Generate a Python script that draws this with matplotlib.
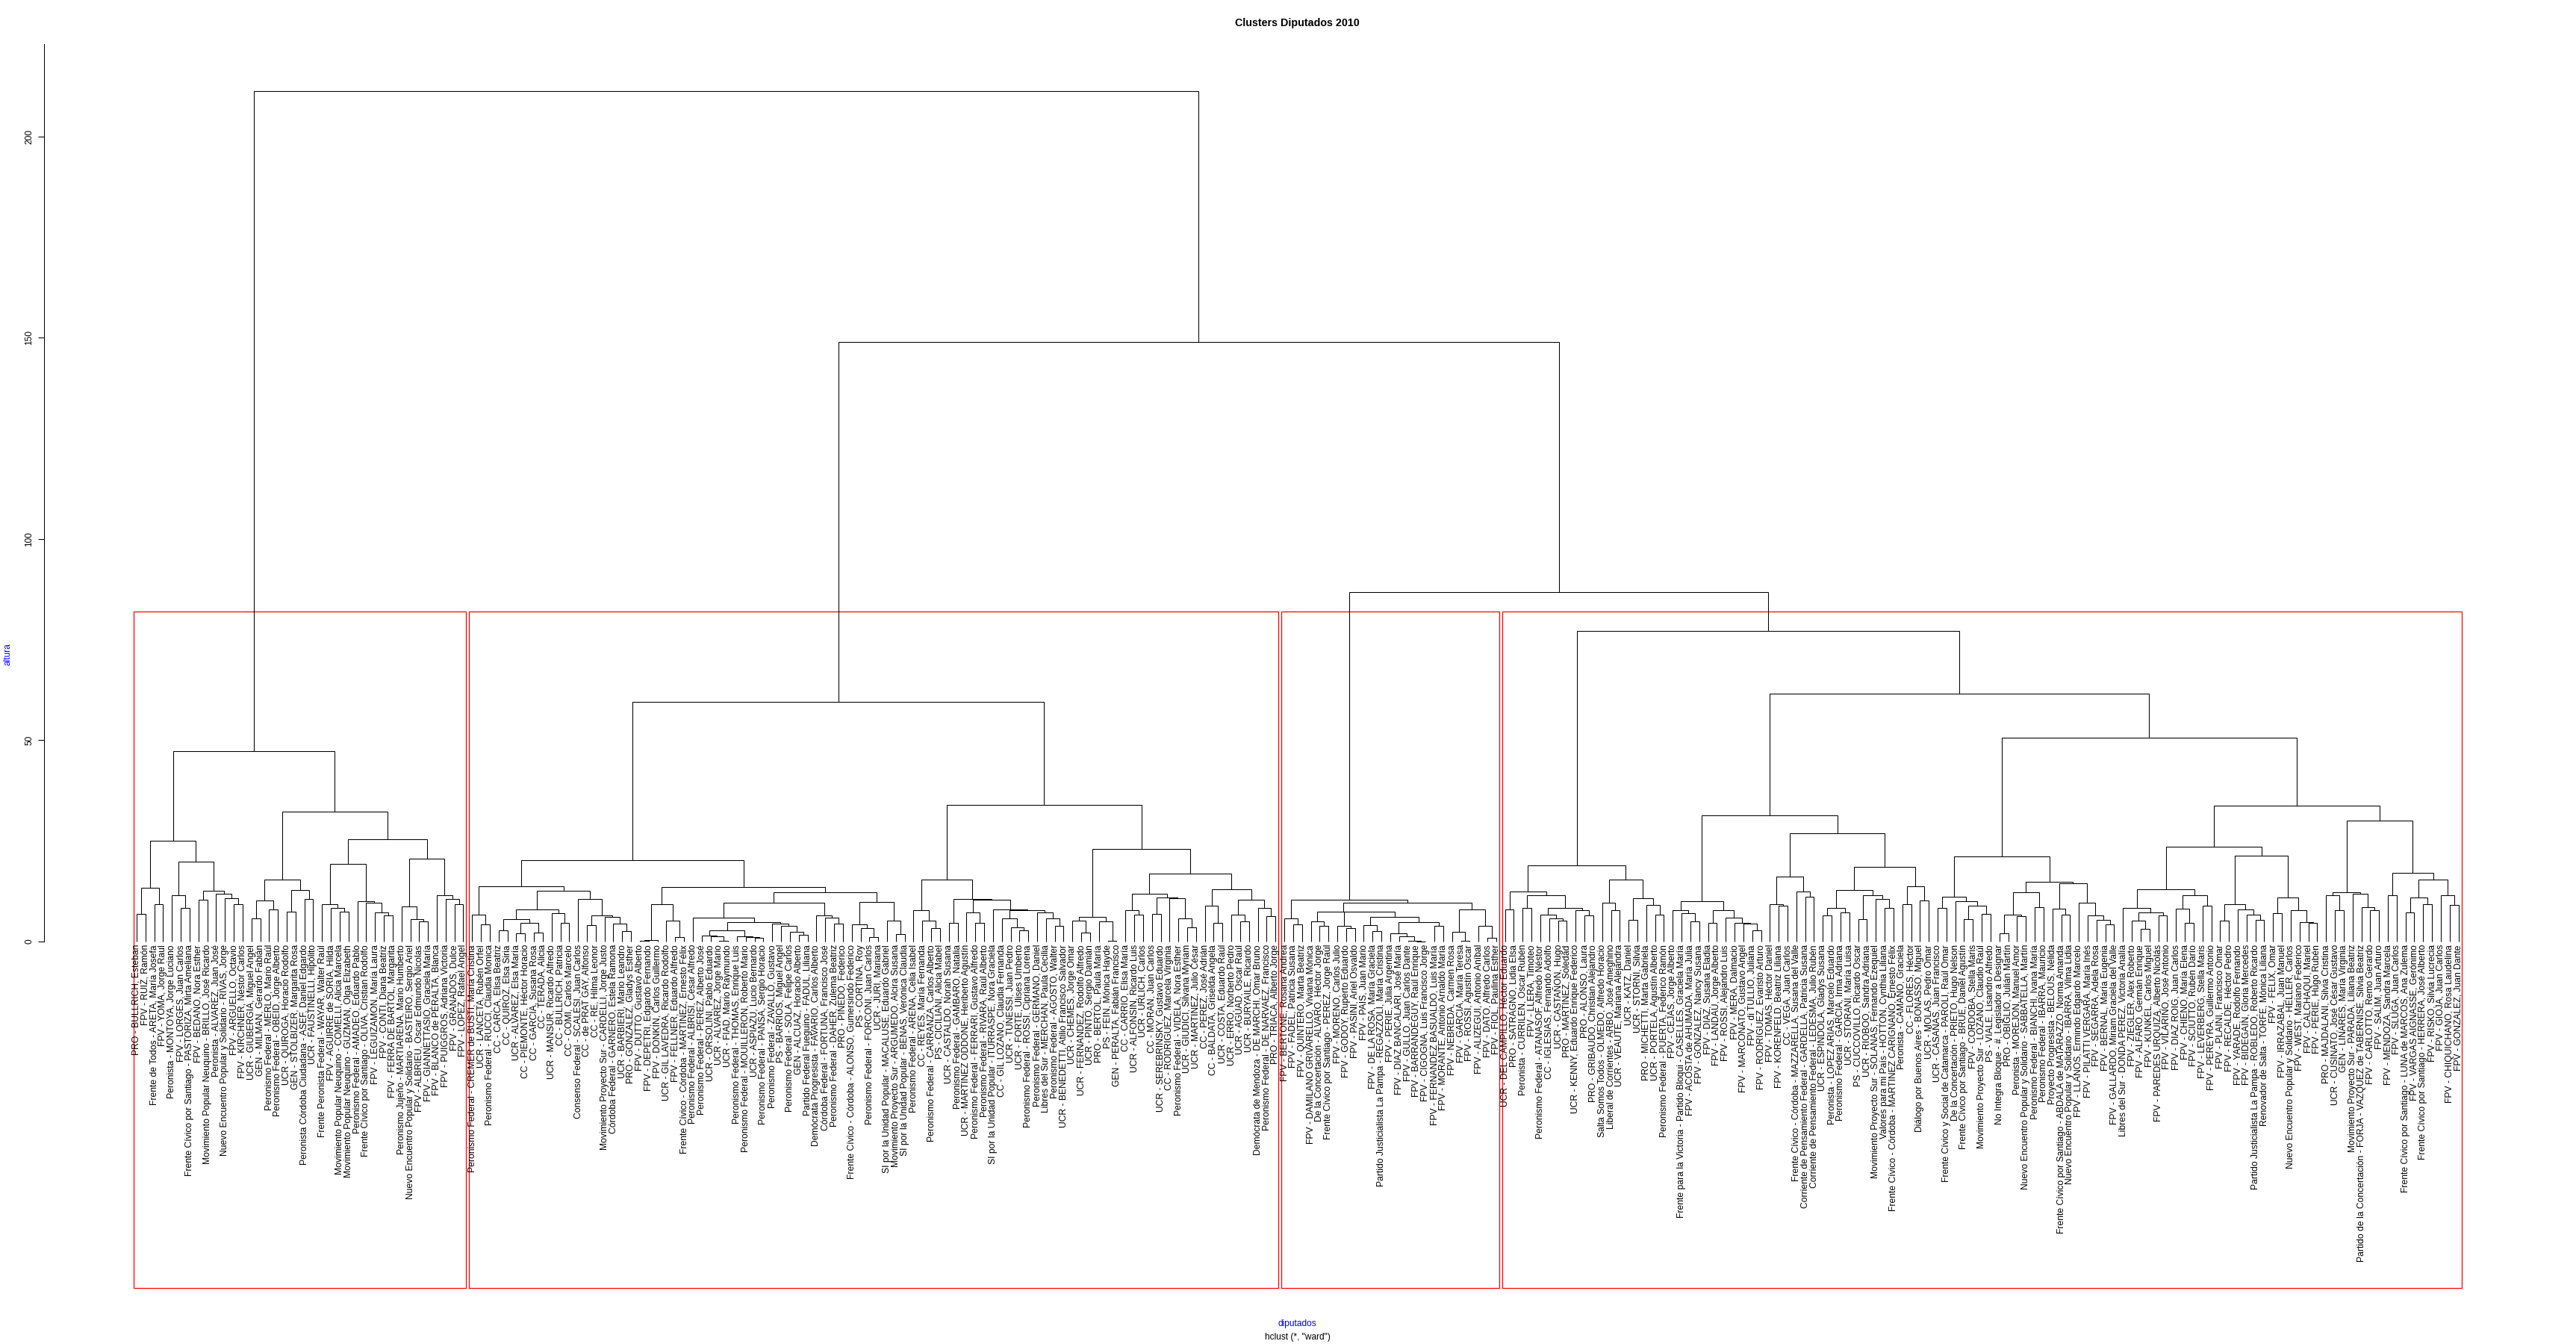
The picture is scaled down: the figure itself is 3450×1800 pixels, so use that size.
"""Dendrogram of the 2010 Argentine deputies (hclust, ward) with 4 cluster boxes."""

import matplotlib
matplotlib.use("Agg")
import matplotlib.pyplot as plt
from matplotlib.patches import Rectangle

plt.rcParams["font.family"] = ["Liberation Sans", "DejaVu Sans"]

# leaf labels, left to right, one list per cluster
cluster1_labels = [
    "PRO - BULLRICH, Esteban", "FPV - RUIZ, Ramón", "Frente de Todos - ARETA, María Josefa",
    "FPV - YOMA, Jorge Raul", "Peronista - MONTOYA, Jorge Luciano", "FPV - LORGES, Juan Carlos",
    "Frente Cívico por Santiago - PASTORIZA, Mirta Ameliana", "FPV - BEDANO, Nora Esther",
    "Movimiento Popular Neuquino - BRILLO, José Ricardo", "Peronista - ALVAREZ, Juan José",
    "Nuevo Encuentro Popular y Solidario - RIVAS, Jorge", "FPV - ARGUELLO, Octavio",
    "FPV - KIRCHNER, Néstor Carlos", "UCR - GIUBERGIA, Miguel Angel", "GEN - MILMAN, Gerardo Fabián",
    "Peronismo Federal - MERLO, Mario Raúl", "Peronismo Federal - OBEID, Jorge Alberto",
    "UCR - QUIROGA, Horacio Rodolfo", "GEN - STOLBIZER, Margarita Rosa",
    "Peronista Córdoba Ciudadana - ASEF, Daniel Edgardo", "UCR - FAUSTINELLI, Hipólito",
    "Frente Peronista Federal - WAYAR, Walter Raúl", "FPV - AGUIRRE de SORIA, Hilda",
    "Movimiento Popular Neuquino - COMELLI, Alicia Marcela",
    "Movimiento Popular Neuquino - GUZMAN, Olga Elizabeth", "Peronismo Federal - AMADEO, Eduardo Pablo",
    "Frente Cívico por Santiago - OLIVA, Cristian Rodolfo", "FPV - LEGUIZAMON, María Laura",
    "FPV - CONTI, Diana Beatriz", "FPV - FERRA DE BARTOL, Margarita",
    "Peronismo Jujeño - MARTIARENA, Mario Humberto",
    "Nuevo Encuentro Popular y Solidario - BASTEIRO, Sergio Ariel", "FPV - ALBRIEU, Oscar Edmundo Nicolas",
    "FPV - GIANNETTASIO, Graciela María", "FPV - BLANCO de PERALTA, Blanca",
    "FPV - PUIGGROS, Adriana Victoria", "FPV - GRANADOS, Dulce", "FPV - LOPEZ, Rafael Angel",
]
cluster2_labels = [
    "Peronismo Federal - CREMER de BUSTI, María Cristina", "UCR - LANCETA, Rubén Orfel",
    "Peronismo Federal - RUCCI, Claudia Monica", "CC - CARCA, Elisa Beatriz", "CC - QUIROZ, Elsa Siria",
    "UCR - ALVAREZ, Elsa María", "CC - PIEMONTE, Héctor Horacio", "CC - GARCIA, Susana Rosa",
    "CC - TERADA, Alicia", "UCR - MANSUR, Ricardo Alfredo", "CC - BULLRICH, Patricia",
    "CC - COMI, Carlos Marcelo", "Consenso Federal - SCALESI, Juan Carlos", "CC - de PRAT GAY, Alfonso",
    "CC - RE, Hilma Leonor", "Movimiento Proyecto Sur - CARDELLI, Jorge Justo",
    "Córdoba Federal - GARNERO, Estela Ramona", "UCR - BARBIERI, Mario Leandro",
    "PRO - GONZALEZ, Gladys Esther", "FPV - DUTTO, Gustavo Alberto", "FPV - DEPETRI, Edgardo Fernando",
    "FPV - DONKIN, Carlos Guillermo", "UCR - GIL LAVEDRA, Ricardo Rodolfo", "FPV - FELLNER, Eduardo Alfredo",
    "Frente Cívico - Córdoba - MARTINEZ, Ernesto Félix", "Peronismo Federal - ALBRISI, César Alfredo",
    "Peronismo Federal - PEREZ, Alberto José", "UCR - ORSOLINI, Pablo Eduardo",
    "UCR - ALVAREZ, Jorge Mario", "UCR - FIAD, Mario Raymundo", "Peronismo Federal - THOMAS, Enrique Luis",
    "Peronismo Federal - MOUILLERON, Roberto Mario", "UCR - ASPIAZU, Lucio Bernardo",
    "Peronismo Federal - PANSA, Sergio Horacio", "Peronismo Federal - ZAVALLO, Gustavo",
    "PS - BARRIOS, Miguel Angel", "Peronismo Federal - SOLA, Felipe Carlos", "GEN - ALCUAZ, Horacio Alberto",
    "Partido Federal Fueguino - FADUL, Liliana", "Demócrata Progresista - FAVARIO, Carlos Alberto",
    "Córdoba Federal - FORTUNA, Francisco José", "Peronismo Federal - DAHER, Zulema Beatriz",
    "PRO - PINEDO, Federico", "Frente Cívico - Córdoba - ALONSO, Gumersindo Federico",
    "PS - CORTINA, Roy", "Peronismo Federal - FORCONI, Juan Carlos", "UCR - JURI, Mariana",
    "SI por la Unidad Popular - MACALUSE, Eduardo Gabriel",
    "Movimiento Proyecto Sur - ARGUMEDO, Alcira Susana",
    "SI por la Unidad Popular - BENAS, Verónica Claudia", "Peronismo Federal - ARENA, Celia Isabel",
    "CC - REYES, María Fernanda", "Peronismo Federal - CARRANZA, Carlos Alberto",
    "PS - CICILIANI, Alicia Mabel", "UCR - CASTALDO, Norah Susana", "Peronismo Federal - GAMBARO, Natalia",
    "UCR - MARTINEZ ODDONE, Heriberto Agustín", "Peronismo Federal - FERRARI, Gustavo Alfredo",
    "Peronismo Federal - RIVARA, Raúl Alberto", "SI por la Unidad Popular - ITURRASPE, Nora Graciela",
    "CC - GIL LOZANO, Claudia Fernanda", "UCR - TUNESSI, Juan Pedro", "UCR - FORTE, Ulises Umberto",
    "Peronismo Federal - ROSSI, Cipriana Lorena", "Peronismo Federal - GERMANO, Daniel",
    "Libres del Sur - MERCHAN, Paula Cecilia", "Peronismo Federal - AGOSTO, Walter",
    "UCR - BENEDETTI, Atilio Francisco Salvador", "UCR - CHEMES, Jorge Omar",
    "UCR - FERNANDEZ, Rodolfo Alfredo", "UCR - PINTO, Sergio Damián", "PRO - BERTOL, Paula María",
    "PS - FEIN, Mónica Hayde", "GEN - PERALTA, Fabián Francisco", "CC - CARRIO, Elisa María",
    "UCR - ALFONSIN, Ricardo Luis", "UCR - URLICH, Carlos", "CC - MORAN, Juan Carlos",
    "UCR - SEREBRINSKY, Gustavo Eduardo", "CC - RODRIGUEZ, Marcela Virginia",
    "Peronismo Federal - VIDELA, Nora Esther", "UCR - GIUDICI, Silvana Myriam",
    "UCR - MARTINEZ, Julio César", "CC - PEREZ, José Adrián", "CC - BALDATA, Griselda Angela",
    "UCR - COSTA, Eduardo Raúl", "UCR - ERRO, Norberto Pedro", "UCR - AGUAD, Oscar Raúl",
    "UCR - BURYAILE, Ricardo", "Demócrata de Mendoza - DE MARCHI, Omar Bruno",
    "Peronismo Federal - DE NARVAEZ, Francisco", "PRO - TRIACA, Alberto Jorge",
]
cluster3_labels = [
    "FPV - BERTONE, Rosana Andrea", "FPV - FADEL, Patricia Susana", "FPV - QUINTERO, Marta Beatriz",
    "FPV - DAMILANO GRIVARELLO, Viviana Mónica", "De la Concertación - ALVARO, Héctor Jorge",
    "Frente Cívico por Santiago - PEREZ, Jorge Raúl", "FPV - MORENO, Carlos Julio",
    "FPV - GODOY, Ruperto Eduardo", "FPV - PASINI, Ariel Osvaldo", "FPV - PAIS, Juan Mario",
    "FPV - DE LA ROSA, María Graciela", "Partido Justicialista La Pampa - REGAZZOLI, María Cristina",
    "FPV - PERIE, Julia Argentina", "FPV - DIAZ BANCALARI, José María", "FPV - GULLO, Juan Carlos Dante",
    "FPV - BARRANDEGUY, Raúl Enrique", "FPV - CIGOGNA, Luis Francisco Jorge",
    "FPV - FERNANDEZ BASUALDO, Luis María", "FPV - MORANTE, Antonio Arnaldo María",
    "FPV - NEBREDA, Carmen Rosa", "FPV - GARCIA, María Teresa", "FPV - ROSSI, Agustín Oscar",
    "FPV - ALIZEGUI, Antonio Aníbal", "FPV - DATO, Alfredo Carlos", "FPV - FIOL, Paulina Esther",
]
cluster4_labels = [
    "UCR - DEL CAMPILLO, Héctor Eduardo", "PRO - SATRAGNO, Lidia Elsa", "Peronista - CURRILEN, Oscar Rubén",
    "FPV - LLERA, Timoteo", "Peronismo Federal - ATANASOF, Alfredo Néstor", "CC - IGLESIAS, Fernando Adolfo",
    "UCR - CASTAÑON, Hugo", "PRO - MARTINEZ, Soledad", "UCR - KENNY, Eduardo Enrique Federico",
    "PRO - ALONSO, Laura", "PRO - GRIBAUDO, Christian Alejandro",
    "Salta Somos Todos - OLMEDO, Alfredo Horacio", "Liberal de Corrientes - ARBO, José Ameghino",
    "UCR - VEAUTE, Mariana Alejandra", "UCR - KATZ, Daniel", "UCR - STORNI, Silvia",
    "PRO - MICHETTI, Marta Gabriela", "UCR - PORTELA, Agustín Alberto",
    "Peronismo Federal - PUERTA, Federico Ramón", "FPV - CEJAS, Jorge Alberto",
    "Frente para la Victoria - Partido Bloqui - CASELLES, Graciela María",
    "FPV - ACOSTA de AHUMADA, María Julia", "FPV - GONZALEZ, Nancy Susana", "FPV - DIAZ, Susana Eladia",
    "FPV - LANDAU, Jorge Alberto", "FPV - ROSSI, Alejandro Luis", "FPV - MERA, Dalmacio",
    "FPV - MARCONATO, Gustavo Angel", "FPV - di TULLIO, Juliana", "FPV - RODRIGUEZ, Evaristo Arturo",
    "FPV - TOMAS, Héctor Daniel", "FPV - KORENFELD, Beatriz Liliana", "CC - VEGA, Juan Carlos",
    "Frente Cívico - Córdoba - MAZZARELLA, Susana del Valle",
    "Corriente de Pensamiento Federal - GARDELLA, Patricia Susana",
    "Corriente de Pensamiento Federal - LEDESMA, Julio Rubén", "UCR - ESPINDOLA, Gladys Susana",
    "Peronista - LOPEZ ARIAS, Marcelo Eduardo", "Peronismo Federal - GARCIA, Irma Adriana",
    "UCR - STORANI, María Luisa", "PS - CUCCOVILLO, Ricardo Oscar", "UCR - RIOBOO, Sandra Adriana",
    "Movimiento Proyecto Sur - SOLANAS, Fernando Ezequiel", "Valores para mi País - HOTTON, Cynthia Liliana",
    "Frente Cívico - Córdoba - MARTINEZ CARIGNANO, Ernesto Félix", "Peronista - CAMAÑO, Graciela",
    "CC - FLORES, Héctor", "Diálogo por Buenos Aires - BONASSO, Miguel", "UCR - MOLAS, Pedro Omar",
    "UCR - CASAÑAS, Juan Francisco", "Frente Cívico y Social de Catamarca - PAROLI, Raúl Omar",
    "De la Concertación - PRIETO, Hugo Nelson", "Frente Cívico por Santiago - BRUE, Daniel Agustín",
    "FPV - CORDOBA, Stella Maris", "Movimiento Proyecto Sur - LOZANO, Claudio Raúl",
    "PS - VIALE, Lisandro Alfredo", "No Integra Bloque - #, Legislador a Designar",
    "PRO - OBIGLIO, Julián Martín", "Peronista - MOREJON, Manuel Amor",
    "Nuevo Encuentro Popular y Solidario - SABBATELLA, Martín", "Peronismo Federal - BIANCHI, Ivana María",
    "Peronismo Federal - IBARRA, Mauricio", "Proyecto Progresista - BELOUS, Nélida",
    "Frente Cívico por Santiago - ABDALA de MATARAZZO, Norma Amanda",
    "Nuevo Encuentro Popular y Solidario - IBARRA, Vilma Lidia", "FPV - LLANOS, Ermindo Edgardo Marcelo",
    "FPV - PILATTI VERGARA, María Inés", "FPV - SEGARRA, Adela Rosa", "FPV - BERNAL, María Eugenia",
    "FPV - GALLARDO, Miriam Graciela del Valle", "Libres del Sur - DONDA PEREZ, Victoria Analía",
    "FPV - ZIEGLER, Alex Roberto", "FPV - ALFARO, Germán Enrique", "FPV - KUNKEL, Carlos Miguel",
    "FPV - PAREDES URQUIZA, Alberto Nicolás", "FPV - VILARIÑO, José Antonio", "FPV - DIAZ ROIG, Juan Carlos",
    "FPV - CHIENO, María Elena", "FPV - SCIUTTO, Rubén Darío", "FPV - LEVERBERG, Stella Maris",
    "FPV - PEREYRA, Guillermo Antonio", "FPV - PLAINI, Francisco Omar", "FPV - RECALDE, Héctor Pedro",
    "FPV - YARADE, Rodolfo Fernando", "FPV - BIDEGAIN, Gloria Mercedes",
    "Partido Justicialista La Pampa - ROBLEDO, Roberto Ricardo", "Renovador de Salta - TORFE, Mónica Liliana",
    "FPV - FELIX, Omar", "FPV - IRRAZABAL, Juan Manuel",
    "Nuevo Encuentro Popular y Solidario - HELLER, Carlos", "FPV - WEST, Mariano Federico",
    "FPV - CALCHAQUI, Mariel", "FPV - PERIE, Hugo Rubén", "PRO - MAJDALANI, Silvia Cristina",
    "UCR - CUSINATO, José César Gustavo", "GEN - LINARES, María Virginia",
    "Movimiento Proyecto Sur - PARADA, Liliana Beatriz",
    "Partido de la Concertación - FORJA - VAZQUEZ de TABERNISE, Silvia Beatriz",
    "FPV - CARLOTTO, Remo Gerardo", "FPV - SALIM, Juan Arturo", "FPV - MENDOZA, Sandra Marcela",
    "FPV - SLUGA, Juan Carlos", "Frente Cívico por Santiago - LUNA de MARCOS, Ana Zulema",
    "FPV - VARGAS AIGNASSE, Gerónimo", "Frente Cívico por Santiago - HERRERA, José Alberto",
    "FPV - RISKO, Silvia Lucrecia", "FPV - GIOJA, Juan Carlos", "FPV - CHIQUICHANO, Rosa Laudelina",
    "FPV - GONZALEZ, Juan Dante",
]

# merges as (height, left, right); ints are 1-based leaf positions
cluster1_tree = (47.3,
    (25.1,
        (13.4, (6.9, 1, 2), (9.2, 3, 4)),
        (19.8, (11.5, 5, (8.4, 6, 7)),
               (12.6, (10.4, 8, 9), (11.8, 10, (10.8, 11, (9.2, 12, 13)))))),
    (32.2,
        (15.4, (10.1, (5.8, 14, 15), (8.0, 16, 17)), (12.7, (7.4, 18, 19), (10.6, 20, 21))),
        (25.4,
            (19.2, (9.3, 22, (8.3, 23, (7.5, 24, 25))),
                   (10.0, 26, (9.7, 27, (7.3, 28, (6.5, 29, 30))))),
            (20.5, (8.7, 31, (5.6, 32, (5.0, 33, 34))),
                   (11.4, 35, (10.6, 36, (9.2, 37, 38)))))))

cluster2_tree = (59.6,
    (20.2,
        (13.8,
            (6.6, 39, (4.2, 40, 41)),
            (12.6,
                (8.0, (5.5, (2.8, 42, 43), (4.7, (2.0, 44, 45), (2.2, 46, 47))),
                      (7.0, 48, (4.6, 49, 50))),
                (10.5, 51, (6.5, (4.0, 52, 53), (6.2, 54, (4.4, 55, (2.6, 56, 57))))))),
        (13.6,
            (9.3, (0.3, (0.1, 58, 59), 60), (5.2, 61, (1.1, 62, 63))),
            (12.2,
                (9.7,
                    (6.0, 64,
                        (4.8,
                            (2.8, (1.4, 65, (1.2, 66, (0.1, 67, 68))),
                                  (1.3, 69, (1.1, 70, (0.9, 71, 72)))),
                            (4.4, 73, (3.8, 74, (2.4, 75, (1.6, 76, 77)))))),
                    (6.5, 78, (6.0, 79, (4.4, 80, 81)))),
                (9.9, (4.2, 82, (3.3, 83, (1.1, 84, 85))), (5.2, 86, (1.8, 87, 88)))))),
    (33.9,
        (15.4,
            (7.8, 89, (5.2, 90, (3.4, 91, 92))),
            (10.5, (4.6, 93, 94),
                   (10.3, (7.2, 95, (4.6, 96, 97)),
                          (8.0, 98, (7.8, (5.8, 99, (3.6, 100, (2.8, 101, 102))),
                                          (7.2, 103, (5.8, 104, (3.8, 105, 106)))))))),
        (23.0,
            (6.2, (5.2, 107, (2.2, 108, 109)), (5.0, 110, (0.1, 111, 112))),
            (16.9,
                (11.8, (7.8, 113, (6.6, 114, 115)),
                       (10.9, (6.9, 116, 117), (10.8, 118, (5.8, 119, (3.6, 120, 121))))),
                (13.0, (8.9, 122, (4.6, 123, 124)),
                       (10.3, (6.6, 125, (5.0, 126, 127)), (8.3, 128, (6.3, 129, 130))))))))

cluster3_tree = (10.3,
    (5.8, 131, (4.2, 132, 133)),
    (9.7,
        (7.5, (5.0, 134, (3.8, 135, 136)),
              (7.4, (3.8, 137, (3.4, 138, 139)),
                    (6.2, (4.0, 140, (2.6, 141, 142)),
                          (4.8, (2.0, 143, (1.3, 144, (0.1, 145, (0.05, 146, 147)))),
                                (3.8, 148, 149))))),
        (8.0, (2.4, 150, (0.1, 151, 152)), (3.8, 153, (0.9, 154, 155)))))

cluster4_tree = (77.1,
    (18.9,
        (12.5, (7.9, 156, 157),
               (11.5, (8.3, 158, 159),
                      (8.4, (6.6, 160, (5.8, 161, (5.1, 162, 163))), (7.8, 164, (6.4, 165, 166))))),
        (15.4, (9.6, 167, (7.8, 168, 169)), (10.8, (5.4, 170, 171), (9.1, 172, (6.7, 173, 174))))),
    (61.6,
        (31.3,
            (10.0, (7.8, 175, (7.1, 176, (5.0, 177, 178))),
                   (7.8, (4.7, 179, 180), (6.0, 181, (4.7, 182, (4.4, 183, (2.8, 184, 185)))))),
            (26.9,
                (16.1, (9.3, 186, (8.9, 187, 188)), (12.5, 189, (11.2, 190, 191))),
                (18.5,
                    (12.7, (8.3, (6.4, 192, 193), (7.3, 194, 195)),
                           (11.5, (5.5, 196, 197), (10.5, 198, (8.3, 199, 200)))),
                    (13.8, (9.2, 201, 202), (10.1, 203, 204))))),
        (50.7,
            (21.2,
                (11.1, (8.3, 205, 206), (10.0, 207, (8.9, (5.5, 208, 209), (6.9, 210, 211)))),
                (14.8,
                    (12.3, (6.6, (2.1, 212, 213), (6.3, 214, 215)), (8.5, 216, 217)),
                    (14.4, (8.1, 218, (6.7, 219, 220)),
                           (9.6, 221, (6.5, 222, (5.3, 223, (4.2, 224, 225))))))),
            (33.7,
                (23.6,
                    (13.0, (8.3, 226, (7.3, (5.2, 227, (3.2, 228, 229)), (6.5, 230, 231))),
                           (11.5, (8.1, 232, (4.6, 233, 234)), (8.9, 235, 236))),
                    (21.3,
                        (9.3, (5.2, 237, 238), (8.0, 239, (6.6, 240, (5.4, 241, 242)))),
                        (10.9, (7.1, 243, 244), (7.7, 245, (4.8, 246, (4.6, 247, 248)))))),
                (30.0,
                    (12.2, (11.4, 249, (7.8, 250, 251)), (11.8, 252, (8.5, 253, (7.7, 254, 255)))),
                    (17.1, (11.4, 256, 257),
                           (15.4, (10.9, (7.3, 258, 259), (9.2, 260, 261)),
                                  (11.5, 262, (9.1, 263, 264)))))))))

clusters34_height = 86.9
right_height = 149.0
root_height = 211.4

clusters = [cluster1_labels, cluster2_labels, cluster3_labels, cluster4_labels]
labels = [lab for group in clusters for lab in group]
tree = (root_height, cluster1_tree,
        (right_height, cluster2_tree, (clusters34_height, cluster3_tree, cluster4_tree)))

n = len(labels)
W, H = 3450, 1800
fig = plt.figure(figsize=(W / 100, H / 100), dpi=100)
# plot region in pixels (R usr box)
left_px, right_px, bottom_px, top_px = 58.6, 3417.0, 75.0, 1741.0
ax = fig.add_axes([left_px / W, bottom_px / H, (right_px - left_px) / W, (top_px - bottom_px) / H])
pad = 0.04 * (n - 1)
ax.set_xlim(1 - pad, n + pad)
ymin, ymax = -86.1, 223.0
ax.set_ylim(ymin, ymax)

heights = []


def draw(node):
    if isinstance(node, int):
        return float(node), 0.0
    h, left, right = node
    heights.append(h)
    xl, hl = draw(left)
    xr, hr = draw(right)
    ax.plot([xl, xl, xr, xr], [hl, h, h, hr], color="black", lw=0.75,
            solid_joinstyle="miter", solid_capstyle="butt")
    return (xl + xr) / 2, h


draw(tree)

for i, lab in enumerate(labels, start=1):
    ax.annotate(lab, (i, 0), xytext=(0, -3), textcoords="offset points", rotation=90,
                ha="center", va="top", fontsize=8.75)

# rect.hclust(k = 4)
k = 4
hs = sorted(heights, reverse=True)
cut = (hs[k - 2] + hs[k - 1]) / 2
m = 0
for group in clusters:
    x0 = m + 0.66
    x1 = m + len(group) + 0.33
    ax.add_patch(Rectangle((x0, ymin), x1 - x0, cut - ymin, fill=False,
                           edgecolor="#ff0000", lw=0.9, clip_on=False))
    m += len(group)

for side in ["top", "right", "bottom"]:
    ax.spines[side].set_visible(False)
ax.spines["left"].set_bounds(0, ymax)
ax.spines["left"].set_linewidth(0.75)
ax.set_xticks([])
ax.set_yticks([0, 50, 100, 150, 200])
ax.tick_params(axis="y", length=5.5, width=0.75, pad=4, labelsize=8.6)
for t in ax.get_yticklabels():
    t.set_rotation(90)
    t.set_va("center")

cx = (left_px + right_px) / 2 / W
fig.text(cx, 1 - 31 / H, "Clusters Diputados 2010", ha="center", va="center",
         fontsize=10.3, fontweight="bold")
fig.text(cx, 1 - 1773 / H, "diputados", ha="center", va="center", fontsize=8.6, color="blue")
fig.text(cx, 1 - 1791 / H, 'hclust (*, "ward")', ha="center", va="center", fontsize=8.6)
fig.text(11 / W, 1 - 876 / H, "altura", ha="center", va="center", rotation=90,
         fontsize=8.6, color="blue")

fig.savefig("out.png", dpi=100)
